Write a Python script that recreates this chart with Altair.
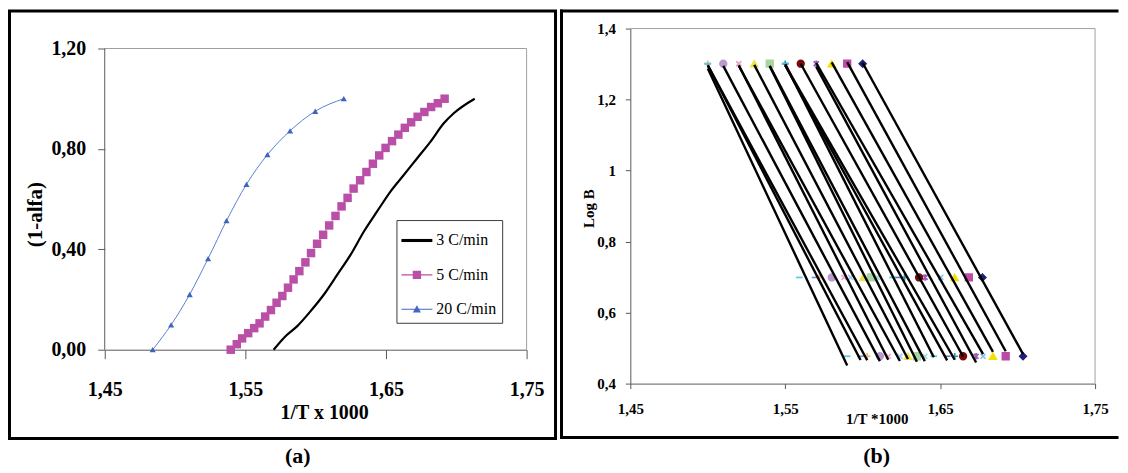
import altair as alt
import pandas as pd

FONT = "Liberation Serif"
AX = "#595959"
FRAME = "#A0A0A0"

# ---------------- panel (a) data ----------------
a_series = ["3 C/min", "5 C/min", "20 C/min"]
a_colors = ["#000000", "#B94FA6", "#4169C4"]

x_3 = [1.5701, 1.5777, 1.5871, 1.5966, 1.6060, 1.6155, 1.6250, 1.6344, 1.6438,
       1.6533, 1.6628, 1.6722, 1.6817, 1.6911, 1.6982, 1.7131]
y_3 = [0.000, 0.049, 0.095, 0.155, 0.221, 0.300, 0.380, 0.472, 0.552,
       0.631, 0.697, 0.763, 0.829, 0.902, 0.942, 1.000]

x_5 = [1.5396, 1.5439, 1.5477, 1.5520, 1.5563, 1.5601, 1.5641, 1.5682, 1.5722,
       1.5763, 1.5803, 1.5843, 1.5884, 1.5927, 1.5967, 1.6010, 1.6053, 1.6096,
       1.6141, 1.6184, 1.6227, 1.6270, 1.6316, 1.6361, 1.6407, 1.6452, 1.6497,
       1.6543, 1.6588, 1.6634, 1.6679, 1.6725, 1.6773, 1.6821, 1.6869, 1.6917]
y_5 = [0.000, 0.022, 0.045, 0.066, 0.086, 0.105, 0.132, 0.158, 0.187,
       0.214, 0.247, 0.280, 0.313, 0.348, 0.385, 0.422, 0.458, 0.495,
       0.533, 0.571, 0.605, 0.642, 0.675, 0.708, 0.741, 0.774, 0.804,
       0.831, 0.857, 0.884, 0.906, 0.928, 0.947, 0.967, 0.982, 1.000]

x_20 = [1.4841, 1.4972, 1.5104, 1.5235, 1.5366, 1.5508, 1.5657, 1.5818, 1.5997, 1.6200]
y_20 = [0.000, 0.099, 0.220, 0.363, 0.514, 0.659, 0.777, 0.872, 0.950, 1.000]

a_xrange = [1.45, 1.75]
a_yrange = [0.0, 1.2]
a_ticks_x = [1.45, 1.55, 1.65, 1.75]
a_ticks_y = [0.0, 0.4, 0.8, 1.2]

# ---------------- panel (b) data ----------------
log_b = [1.301, 0.699, 0.477]   # log of 20, 5, 3 C/min
b_names = ["s01", "s02", "s03", "s04", "s05", "s06", "s07", "s08", "s09",
           "s10", "s11", "s12", "s13", "s14", "s15", "s16", "s17", "s18"]
top_x = [1.50, 1.50, 1.50, 1.51, 1.52, 1.52, 1.53, 1.54, 1.54,
         1.55, 1.55, 1.55, 1.56, 1.57, 1.57, 1.58, 1.59, 1.60]
mid_x = [1.5591, 1.5692, 1.5720, 1.5800, 1.5879, 1.5922, 1.6004, 1.6053, 1.6094,
         1.6193, 1.6230, 1.6270, 1.6364, 1.6403, 1.6504, 1.6594, 1.6685, 1.6773]
bot_x = [1.5900, 1.5986, 1.6029, 1.6111, 1.6165, 1.6240, 1.6292, 1.6350, 1.6401,
         1.6459, 1.6545, 1.6594, 1.6648, 1.6732, 1.6777, 1.6841, 1.6923, 1.7035]

DASH = "M-1,0H1"
PLUS = "M-1,0H1M0,-1V1"
XMARK = "M-0.75,-0.75L0.75,0.75M-0.75,0.75L0.75,-0.75"
AST = "M-0.75,-0.75L0.75,0.75M-0.75,0.75L0.75,-0.75M0,-1V1"
b_shapes = [DASH, DASH, PLUS, "circle", XMARK, XMARK, "triangle-up", "square", XMARK,
            DASH, DASH, PLUS, "circle", AST, XMARK, "triangle-up", "square", "diamond"]
b_colors = ["#56CCE0", "#7090D0", "#F4B070", "#B89AD0", "#F2A6C8", "#A8CCF0",
            "#EDE24A", "#A8D6A0", "#A6DADA", "#48C4E0", "#5C78C8", "#2A9AB0",
            "#7A0A0A", "#9A5AB8", "#8CC4E4", "#F2E000", "#BC4AA8", "#20207A"]
b_xrange = [1.45, 1.75]
b_yrange = [0.4, 1.4]
b_ticks_x = [1.45, 1.55, 1.65, 1.75]
b_ticks_y = [0.4, 0.6, 0.8, 1.0, 1.2, 1.4]

# ---------------- tables ----------------
rows = []
for name, xs, ys in zip(a_series, [x_3, x_5, x_20], [y_3, y_5, y_20]):
    for xv, yv in zip(xs, ys):
        rows.append({"sa": name, "xa": xv, "ya": yv})
df_a = pd.DataFrame(rows)

rows = []
for i in reversed(range(len(b_names))):      # first series drawn last (on top)
    for xv, yv in zip([top_x[i], mid_x[i], bot_x[i]], log_b):
        rows.append({"sb": b_names[i], "xb": xv, "yb": yv})
df_b = pd.DataFrame(rows)

one = pd.DataFrame({"k": [0]})

# ---------------- panel (a) ----------------
A_H = 322
A_YTOP = 1.2 * A_H / 302.0

axis_xa = alt.Axis(values=a_ticks_x, labelExpr="replace(format(datum.value, '.2f'), '.', ',')",
                   title="1/T x 1000", grid=False, tickSize=9, labelPadding=21,
                   labelFont=FONT, labelFontSize=20, labelFontWeight="bold", labelColor="black",
                   labelFlush=False, labelOverlap=False,
                   titleFont=FONT, titleFontSize=20, titleFontWeight="bold", titleColor="black",
                   titleX=220, titleY=63, titleAlign="center", titleBaseline="middle",
                   domainColor=AX, tickColor=AX)
axis_ya = alt.Axis(values=a_ticks_y, labelExpr="replace(format(datum.value, '.2f'), '.', ',')",
                   title="(1-alfa)", grid=False, tickSize=7, labelPadding=12, domain=False,
                   labelFont=FONT, labelFontSize=20, labelFontWeight="bold", labelColor="black",
                   labelOverlap=False,
                   titleFont=FONT, titleFontSize=21, titleFontWeight="bold", titleColor="black",
                   titleX=-69, titleY=186, titleAngle=270, titleAlign="center", titleBaseline="middle",
                   tickColor=AX)
xa = alt.X("xa:Q", scale=alt.Scale(domain=a_xrange, nice=False, zero=False), axis=axis_xa)
ya = alt.Y("ya:Q", scale=alt.Scale(domain=[0, A_YTOP], nice=False), axis=axis_ya)

base_a = alt.Chart(df_a)
border_a = alt.Chart(one).mark_rect(fill="white", fillOpacity=0, stroke="black", strokeWidth=3).encode(
    x=alt.value(-95.5), x2=alt.value(452), y=alt.value(-17.5), y2=alt.value(411))
frame_top_a = alt.Chart(one).mark_rule(color=FRAME, strokeWidth=1).encode(
    x=alt.datum(a_xrange[0]), x2=alt.datum(a_xrange[1]), y=alt.datum(a_yrange[1]))
frame_right_a = alt.Chart(one).mark_rule(color=FRAME, strokeWidth=1).encode(
    x=alt.datum(a_xrange[1]), y=alt.datum(a_yrange[0]), y2=alt.datum(a_yrange[1]))
frame_left_a = alt.Chart(one).mark_rule(color=AX, strokeWidth=1).encode(
    x=alt.datum(a_xrange[0]), y=alt.datum(a_yrange[0]), y2=alt.datum(a_yrange[1]))

line3 = base_a.transform_filter(alt.datum.sa == "3 C/min").mark_line(
    color="black", strokeWidth=2.2, interpolate="monotone").encode(x=xa, y=ya)
line5 = base_a.transform_filter(alt.datum.sa == "5 C/min").mark_line(
    color="#D9A3D3", strokeWidth=1).encode(x=xa, y=ya)
line20 = base_a.transform_filter(alt.datum.sa == "20 C/min").mark_line(
    color="#5A7FD0", strokeWidth=1, interpolate="monotone").encode(x=xa, y=ya)
sq5 = base_a.transform_filter(alt.datum.sa == "5 C/min").mark_square(size=72, color="#B94FA6", opacity=1).encode(x=xa, y=ya)
tri20 = base_a.transform_filter(alt.datum.sa == "20 C/min").mark_point(
    shape="triangle-up", filled=True, size=38, color="#3E64BE", opacity=1).encode(x=xa, y=ya)

leg_paths = [
    "M-1,-0.1H1V0.1H-1Z",
    "M-1,-0.035H1V0.035H-1ZM-0.27,-0.27H0.27V0.27H-0.27Z",
    "M-1,-0.035H1V0.035H-1ZM0,-0.26L0.26,0.2H-0.26Z",
]
legend_obj = alt.Legend(title=None, orient="none", legendX=292.5, legendY=192,
                        strokeColor="#3C3C3C", fillColor="white", padding=5,
                        labelFont=FONT, labelFontSize=16, labelColor="black",
                        symbolSize=961, symbolStrokeWidth=0, labelOffset=4, rowPadding=10.5)
leg_df = pd.DataFrame({"sa": a_series, "xa": [1.0, 1.0, 1.0], "ya": [-1.0, -1.0, -1.0]})
legend_layer = alt.Chart(leg_df).mark_point(filled=True, clip=True, strokeWidth=0, opacity=1).encode(
    x=xa, y=ya,
    color=alt.Color("sa:N", scale=alt.Scale(domain=a_series, range=a_colors), legend=legend_obj),
    shape=alt.Shape("sa:N", scale=alt.Scale(domain=a_series, range=leg_paths), legend=legend_obj))

panel_a = alt.layer(line5, line3, line20, sq5, tri20, legend_layer,
                    border_a, frame_top_a, frame_right_a, frame_left_a).properties(
    width=423, height=A_H,
    title=alt.TitleParams("(a)", orient="bottom", anchor="middle", frame="group", offset=6, dx=-18,
                          font=FONT, fontSize=22, fontWeight="bold", color="black"))

# ---------------- panel (b) ----------------
axis_xb = alt.Axis(values=b_ticks_x, labelExpr="replace(format(datum.value, '.2f'), '.', ',')",
                   title="1/T *1000", grid=False, tickSize=5, labelPadding=13,
                   labelFont=FONT, labelFontSize=15, labelFontWeight="bold", labelColor="black",
                   labelFlush=False, labelOverlap=False,
                   titleFont=FONT, titleFontSize=15, titleFontWeight="bold", titleColor="black",
                   titleX=247, titleY=35, titleAlign="center", titleBaseline="middle",
                   domainColor=AX, tickColor=AX)
axis_yb = alt.Axis(values=b_ticks_y,
                   labelExpr="datum.value == 1 ? '1' : replace(format(datum.value, '.1f'), '.', ',')",
                   title="Log B", grid=False, tickSize=5, labelPadding=10,
                   labelFont=FONT, labelFontSize=15, labelFontWeight="bold", labelColor="black",
                   labelOverlap=False,
                   titleFont=FONT, titleFontSize=15, titleFontWeight="bold", titleColor="black",
                   titleX=-42, titleY=180, titleAngle=270, titleAlign="center", titleBaseline="middle",
                   domainColor=AX, tickColor=AX)
xb = alt.X("xb:Q", scale=alt.Scale(domain=b_xrange, nice=False, zero=False), axis=axis_xb)
yb = alt.Y("yb:Q", scale=alt.Scale(domain=b_yrange, nice=False, zero=False), axis=axis_yb)

rule_style = dict(color="black", strokeWidth=3, strokeCap="square")
top_b = alt.Chart(one).mark_rule(**rule_style).encode(x=alt.value(-69), x2=alt.value(488), y=alt.value(-17.5))
bottom_b = alt.Chart(one).mark_rule(**rule_style).encode(x=alt.value(-69), x2=alt.value(488), y=alt.value(410))
left_b = alt.Chart(one).mark_rule(**rule_style).encode(x=alt.value(-69), y=alt.value(-17.5), y2=alt.value(410))
frame_top_b = alt.Chart(one).mark_rule(color=FRAME, strokeWidth=1).encode(
    x=alt.datum(b_xrange[0]), x2=alt.datum(b_xrange[1]), y=alt.datum(b_yrange[1]))
frame_right_b = alt.Chart(one).mark_rule(color=FRAME, strokeWidth=1).encode(
    x=alt.datum(b_xrange[1]), y=alt.datum(b_yrange[0]), y2=alt.datum(b_yrange[1]))

lines_b = alt.Chart(df_b).transform_regression("xb", "yb", groupby=["sb"]).mark_line(
    color="black", strokeWidth=2.4).encode(x=xb, y=yb, detail="sb:N")
pts_b = alt.Chart(df_b).mark_point(filled=True, size=44, strokeWidth=1.7, opacity=1).encode(
    x=xb, y=yb,
    shape=alt.Shape("sb:N", scale=alt.Scale(domain=b_names, range=b_shapes), legend=None),
    fill=alt.Fill("sb:N", scale=alt.Scale(domain=b_names, range=b_colors), legend=None),
    stroke=alt.Stroke("sb:N", scale=alt.Scale(domain=b_names, range=b_colors), legend=None))

panel_b = alt.layer(pts_b, lines_b, top_b, bottom_b, left_b, frame_top_b, frame_right_b).properties(
    width=466, height=356,
    title=alt.TitleParams("(b)", orient="bottom", anchor="middle", frame="group", offset=6, dx=14,
                          font=FONT, fontSize=22, fontWeight="bold", color="black"))

chart = alt.hconcat(panel_a, panel_b, spacing=1).resolve_scale(
    x="independent", y="independent", color="independent", shape="independent",
    fill="independent", stroke="independent"
).properties(padding=0).configure_view(stroke=None)

chart.save("out.html", embed_options={"renderer": "svg", "actions": False})
